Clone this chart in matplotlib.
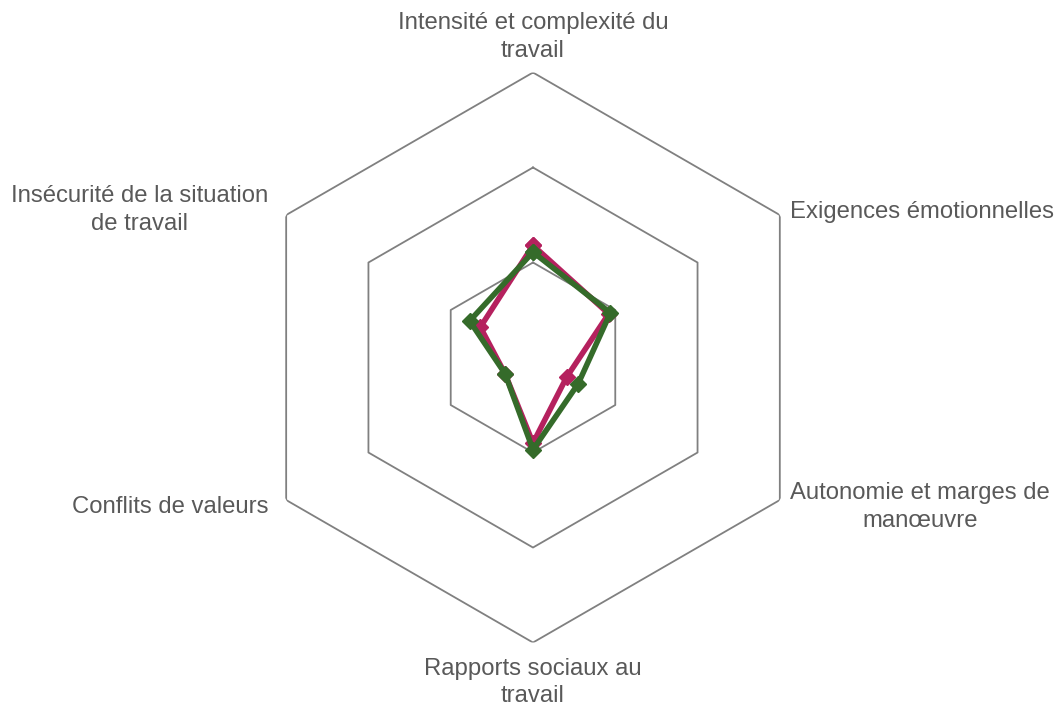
import numpy as np
import matplotlib.pyplot as plt

# === Données ===
categories = ["Intensité et complexité du\ntravail", "Exigences émotionnelles",
              "Autonomie et marges de\nmanœuvre", "Rapports sociaux au\ntravail",
              "Conflits de valeurs", "Insécurité de la situation\nde travail"]
serie_rose = [1.18, 0.92, 0.41, 0.90, 0.34, 0.64]
serie_verte = [1.11, 0.94, 0.55, 0.97, 0.34, 0.77]
anneaux = [1, 2, 3]

plt.rcParams['font.family'] = ['Liberation Sans', 'DejaVu Sans']

n = len(categories)
angles = np.linspace(0, 2 * np.pi, n, endpoint=False)
angles_f = np.append(angles, angles[0])

fig = plt.figure(figsize=(10.57, 7.06), dpi=100)
ax = fig.add_axes([0.2346, 0.0899, 0.5393, 0.8074], polar=True)
ax.set_theta_offset(np.pi / 2)
ax.set_theta_direction(-1)
ax.set_ylim(0, 3)
ax.grid(False)
ax.spines['polar'].set_visible(False)
ax.set_xticks([])
ax.set_yticks([])

# === Grille hexagonale ===
for r in anneaux:
    ax.plot(angles_f, [r] * (n + 1), color='#808080', lw=1.3, zorder=1)

# === Séries ===
for vals, col in [(serie_rose, '#B5215E'), (serie_verte, '#356B2A')]:
    v = np.append(vals, vals[0])
    ax.plot(angles_f, v, color=col, lw=4.0, marker='D', markersize=8, zorder=3)

# === Étiquettes ===
offsets = [((0, 11), 'center', 'bottom'), ((10, 3), 'left', 'center'),
           ((10, -7), 'left', 'center'), ((0, -15), 'center', 'top'),
           ((-18, -7), 'right', 'center'), ((-18, 5), 'right', 'center')]
for ang, lab, (off, ha, va) in zip(angles, categories, offsets):
    ax.annotate(lab, xy=(ang, 3), xytext=off, textcoords='offset pixels',
                ha=ha, va=va, multialignment='center', fontsize=17.2,
                linespacing=1.3, color='#595959', annotation_clip=False)

plt.savefig('out.png', dpi=100)
plt.close()
